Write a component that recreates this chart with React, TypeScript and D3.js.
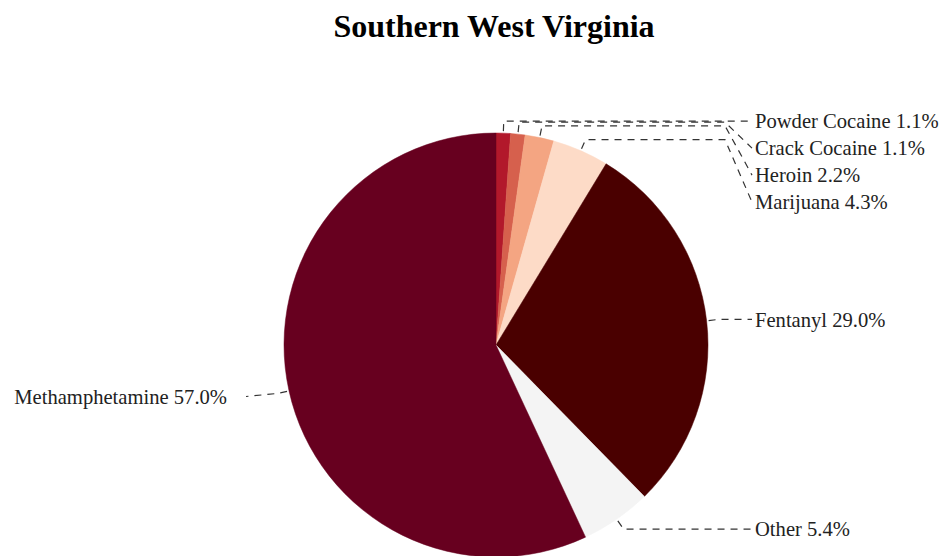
import React from "react";
import * as d3 from "d3";

const categories = ["Powder Cocaine", "Crack Cocaine", "Heroin", "Marijuana", "Fentanyl", "Other", "Methamphetamine"];
const values = [1.1, 1.1, 2.2, 4.3, 29.0, 5.4, 57.0];
const colors = ["#b2182b", "#d6604d", "#f4a582", "#fddbc7", "#4a0000", "#f4f4f4", "#67001f"];
const title = "Southern West Virginia";

const W = 940, H = 556;
const cx = 496, cy = 345, R = 212;

export default function App() {
  const pie = d3.pie<number>().value((d) => d).sort(null);
  const arcs = pie(values);
  const arc = d3.arc<d3.PieArcDatum<number>>().innerRadius(0).outerRadius(R);

  const pt = (a: number, r: number) => [Math.sin(a) * r, -Math.cos(a) * r];

  const items = arcs.map((a, i) => {
    const mid = (a.startAngle + a.endAngle) / 2;
    const right = mid < Math.PI;
    const p0 = pt(mid, R + 2);
    const p1 = pt(mid, R + 12);
    return { i, mid, right, p0, p1, y: p1[1] + (right ? 0 : 3) };
  });
  const gap = 27;
  [true, false].forEach((side) => {
    const s = items.filter((d) => d.right === side).sort((a, b) => a.y - b.y);
    for (let k = 1; k < s.length; k++) {
      if (s[k].y - s[k - 1].y < gap) s[k].y = s[k - 1].y + gap;
    }
  });

  const xEndR = 752 - cx, xEndL = 246 - cx;

  return (
    <div style={{ position: "absolute", left: 0, top: 0 }}>
      <svg width={W} height={H} style={{ display: "block", background: "#fff" }}>
        <text x={494} y={37} textAnchor="middle" fontFamily="Liberation Serif" fontWeight="bold" fontSize={32} fill="#000">
          {title}
        </text>
        <g transform={`translate(${cx},${cy})`}>
          {arcs.map((a, i) => (
            <path key={i} d={arc(a) as string} fill={colors[i]} stroke={colors[i]} strokeWidth={0.5} />
          ))}
          {items.map((d) => {
            const xEnd = d.right ? xEndR : xEndL;
            const dy = Math.abs(d.y - d.p1[1]);
            const pts: number[][] = [d.p0, d.p1];
            if (dy > 3) {
              pts.push([d.right ? 725 - cx : 262 - cx, d.p1[1]]);
            }
            pts.push([xEnd, d.y]);
            const line = d3.line()(pts as [number, number][]) as string;
            const label = `${categories[d.i]} ${values[d.i].toFixed(1)}%`;
            return (
              <g key={d.i}>
                <path d={line} fill="none" stroke="#333" strokeWidth={1.2} strokeDasharray="7,6" />
                <text
                  x={d.right ? xEnd + 3 : xEnd - 19}
                  y={d.y}
                  dy="0.35em"
                  textAnchor={d.right ? "start" : "end"}
                  fontFamily="Liberation Serif"
                  fontSize={20.6}
                  fill="#222"
                >
                  {label}
                </text>
              </g>
            );
          })}
        </g>
      </svg>
    </div>
  );
}
